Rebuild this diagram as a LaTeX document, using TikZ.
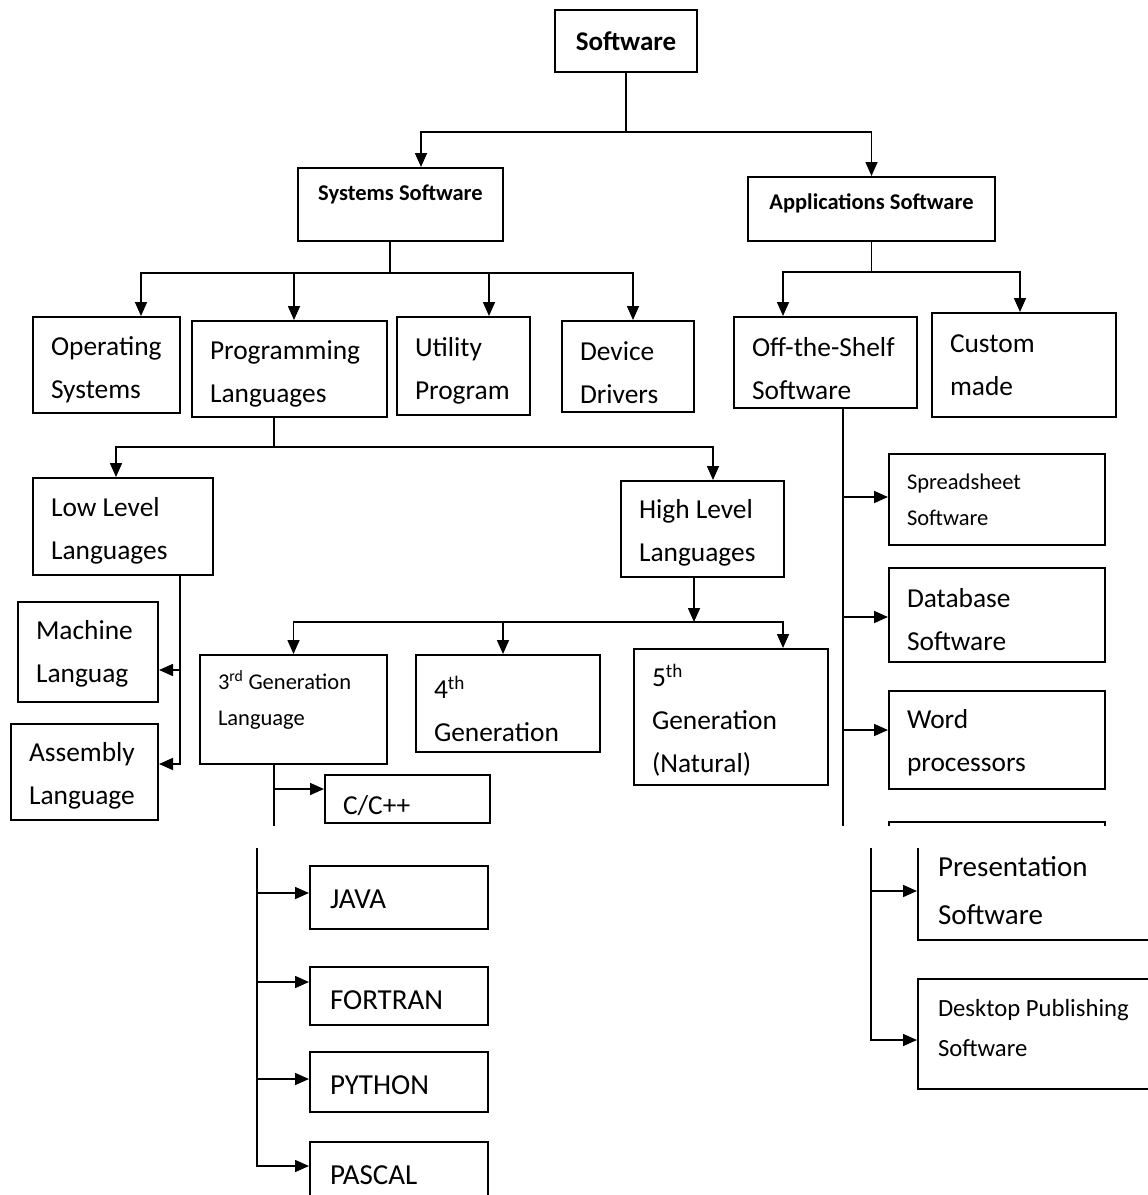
\documentclass[tikz,border=0pt]{standalone}
\usepackage{fontspec}
\setmainfont{Carlito}
\usepackage{tikz}
\usetikzlibrary{arrows.meta,calc}
\newcommand{\bodyfont}{\fontsize{27.4}{43}\selectfont}
\newcommand{\smallfont}{\fontsize{22.5}{36}\selectfont}

\begin{document}
\begin{tikzpicture}[
  x=1pt, y=-1pt,
  box/.style={draw, line width=2pt, inner xsep=18pt, inner ysep=0pt, align=flush left, font=\bodyfont},
  ttl/.style={draw, line width=2pt, inner sep=0pt, align=center, font=\fontsize{27}{32}\selectfont\bfseries},
  sub/.style={ttl, font=\fontsize{22.5}{28}\selectfont\bfseries},
  sml/.style={box, font=\smallfont},
  big/.style={box, inner xsep=20pt, font=\fontsize{29}{48}\selectfont},
  line/.style={line width=1.6pt},
  arr/.style={line, -{Triangle[length=14pt,width=12pt]}}
]
\useasboundingbox (0,0) rectangle (1148,1195);
\begin{scope}
\clip (0,0) rectangle (1148,825);
\node[ttl, minimum width=142pt, minimum height=62pt] (sw) at (626,41) {Software};
\node[sub, minimum width=205pt, minimum height=73pt, text depth=24pt] (sys) at (400.5,204.5) {Systems Software};
\node[sub, minimum width=247pt, minimum height=64pt, text depth=14pt] (apps) at (871.5,209) {Applications Software};
\node[box, text width=111pt, minimum height=96pt, text depth=38pt] (os) at (106.5,365) {Operating\\Systems};
\node[box, text width=159pt, minimum height=96pt, text depth=38pt] (pl) at (289.5,369) {Programming\\Languages};
\node[box, text width=97pt, minimum height=98pt, text depth=38pt] (up) at (463.5,366) {Utility\\Program};
\node[box, text width=96pt, minimum height=91pt, text depth=31pt] (dd) at (628,366.5) {Device\\Drivers};
\node[box, text width=147pt, minimum height=91pt, text depth=31pt] (ots) at (825.5,362.5) {Off-the-Shelf\\Software};
\node[box, text width=148pt, minimum height=104pt] (cm) at (1024,365) {Custom\\made};
\node[box, text width=144pt, minimum height=97pt, text depth=40pt] (ll) at (123,526.5) {Low Level\\Languages};
\node[box, text width=127pt, minimum height=96pt, text depth=40pt] (hl) at (702.5,529) {High Level\\Languages};
\node[box, text width=104pt, minimum height=100pt, text depth=44pt] (ml) at (88,652) {Machine\\Languag};
\node[box, text width=111pt, minimum height=96pt, text depth=40pt] (al) at (84.5,772) {Assembly\\Language};
\node[sml, text width=151pt, minimum height=109pt, text depth=59pt] (g3) at (293.5,709.5) {3\textsuperscript{rd} Generation\\Language};
\node[box, text width=148pt, minimum height=97pt, text depth=33pt] (g4) at (508,703.5) {4\textsuperscript{th}\\Generation};
\node[box, text width=158pt, minimum height=136pt, text depth=83pt] (g5) at (731,717) {5\textsuperscript{th}\\Generation\\(Natural)};
\node[box, text width=129pt, minimum height=48pt, text height=32pt] (cpp) at (407.5,799) {C/C++};
\node[sml, text width=180pt, minimum height=91pt] (ss) at (997,499.5) {Spreadsheet\\Software};
\node[box, text width=180pt, minimum height=94pt, text depth=35pt] (db) at (997,615) {Database\\Software};
\node[box, text width=180pt, minimum height=98pt, text depth=42pt] (wp) at (997,740) {Word\\processors};
\node[box, text width=180pt, minimum height=96pt] (gx) at (997,870) {};

\draw[line] (sw.south) -- ++(0,59) coordinate (b1);
\draw[arr] (b1) -| ([xshift=20.5pt]sys.north);
\draw[arr] (b1) -| (apps.north);
\draw[line] ([xshift=-10.5pt]sys.south) -- ++(0,31) coordinate (b2);
\draw[arr] (b2) -| ([xshift=34.5pt]os.north);
\draw[arr] (b2) -| ([xshift=4.5pt]pl.north);
\draw[arr] (b2) -| ([xshift=25.5pt]up.north);
\draw[arr] (b2) -| ([xshift=5pt]dd.north);
\draw[line] (apps.south) -- ++(0,30) coordinate (b3);
\draw[arr] (b3) -| ([xshift=-42.5pt]ots.north);
\draw[arr] (b3) -| ([xshift=-4pt]cm.north);
\draw[line] ([xshift=-15.5pt]pl.south) -- ++(0,29) coordinate (b4);
\draw[arr] (b4) -| ([xshift=-7pt]ll.north);
\draw[arr] (b4) -| ([xshift=10.5pt]hl.north);
\draw[arr] ([xshift=-8.5pt]hl.south) -- ++(0,44) coordinate (b5);
\draw[arr] (b5) -| (g3.north);
\draw[arr] (b5) -| ([xshift=-5pt]g4.north);
\draw[arr] (b5) -| ([xshift=52pt]g5.north);

\coordinate (t1) at ([xshift=57pt]ll.south);
\coordinate (ma) at ([yshift=-18pt]ml.east);
\draw[arr] (t1) |- ([yshift=8pt]al.east);
\draw[arr] (t1 |- ma) -- (ma);

\coordinate (t2) at ([xshift=-19.5pt]g3.south);
\coordinate (ca) at ([yshift=10pt]cpp.west);
\draw[line] (t2) -- ++(0,70);
\draw[arr] (t2 |- ca) -- (ca);

\coordinate (t4) at ([xshift=17.5pt]ots.south);
\coordinate (sa) at ([yshift=2.5pt]ss.west);
\coordinate (da) at ([yshift=-2pt]db.west);
\coordinate (wa) at ([yshift=10pt]wp.west);
\draw[line] (t4) -- ++(0,430);
\draw[arr] (t4 |- sa) -- (sa);
\draw[arr] (t4 |- da) -- (da);
\draw[arr] (t4 |- wa) -- (wa);
\end{scope}

\begin{scope}
\clip (0,848) rectangle (1148,1195);
\node[big, text width=138pt, minimum height=63pt, text height=23pt] (java) at (399,897.5) {JAVA};
\node[big, text width=138pt, minimum height=58pt, text height=29pt] (fort) at (399,995.5) {FORTRAN};
\node[big, text width=138pt, minimum height=60pt, text height=25pt] (py) at (399,1082) {PYTHON};
\node[big, text width=138pt, minimum height=66pt] (pas) at (399,1175) {PASCAL};
\node[big, text width=202pt, minimum height=98pt] (pres) at (1039,891) {Presentation\\Software};
\node[box, inner xsep=20pt, text width=202pt, minimum height=110pt, text depth=52pt,
  font=\fontsize{24.7}{40}\selectfont] (dtp) at (1039,1034) {Desktop Publishing\\Software};

\coordinate (t3) at (257,840);
\coordinate (ja) at ([yshift=4.5pt]java.west);
\coordinate (fa) at ([yshift=13.5pt]fort.west);
\coordinate (pa) at ([yshift=3pt]py.west);
\draw[arr] (t3) |- ([yshift=9pt]pas.west);
\draw[arr] (t3 |- ja) -- (ja);
\draw[arr] (t3 |- fa) -- (fa);
\draw[arr] (t3 |- pa) -- (pa);

\coordinate (t5) at (871,840);
\draw[arr] (t5) |- ([yshift=-6pt]dtp.west);
\draw[arr] (t5 |- pres.west) -- (pres.west);
\end{scope}
\end{tikzpicture}
\end{document}
